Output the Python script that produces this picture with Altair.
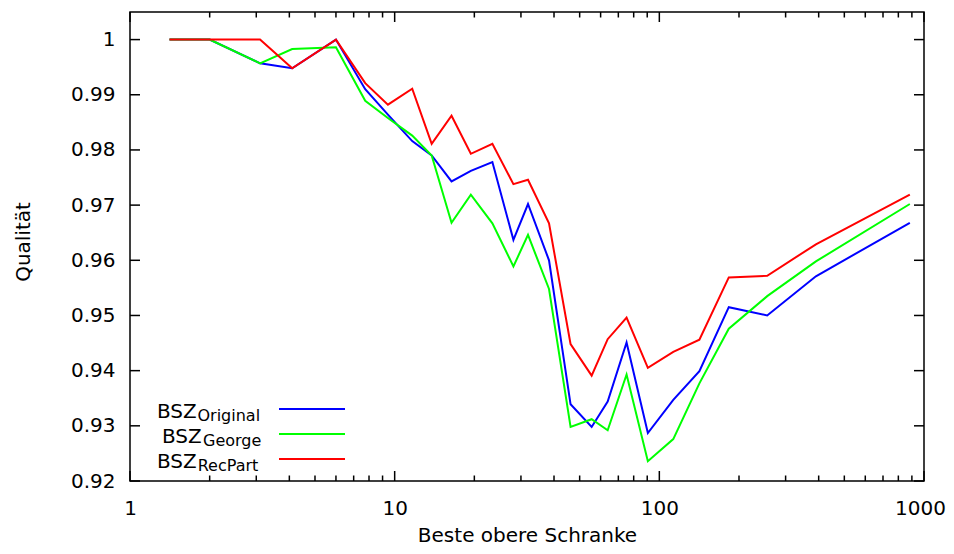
import altair as alt
import pandas as pd

# ---- data ----
bounds = [1.41, 2, 3.1, 4.1, 6, 7.74, 9.43, 11.65, 13.8, 16.4, 19.4, 23.4, 28.1,
          31.9, 38.3, 46.2, 55.5, 63.8, 75.2, 90.5, 112.9, 141.7, 183, 255.6, 390.5, 884]
original = [1.0, 1.0, 0.9957, 0.9948, 1.0, 0.9910, 0.9864, 0.9816, 0.9790, 0.9743,
            0.9762, 0.9778, 0.9637, 0.9702, 0.9600, 0.9339, 0.9298, 0.9344, 0.9451,
            0.9287, 0.9347, 0.9399, 0.9515, 0.9500, 0.9571, 0.9668]
george = [1.0, 1.0, 0.9957, 0.9983, 0.9986, 0.9889, 0.9858, 0.9826, 0.9790, 0.9668,
          0.9719, 0.9667, 0.9589, 0.9646, 0.9548, 0.9298, 0.9312, 0.9292, 0.9393,
          0.9236, 0.9276, 0.9377, 0.9476, 0.9535, 0.9598, 0.9702]
recpart = [1.0, 1.0, 1.0, 0.9948, 1.0, 0.9921, 0.9882, 0.9911, 0.9811, 0.9862,
           0.9793, 0.9811, 0.9738, 0.9746, 0.9667, 0.9448, 0.9391, 0.9457, 0.9496,
           0.9405, 0.9434, 0.9456, 0.9569, 0.9572, 0.9629, 0.9719]
series_names = ["Original", "George", "RecPart"]
series_colors = ["#0000ff", "#00ff00", "#ff0000"]
y_ticks = [0.92, 0.93, 0.94, 0.95, 0.96, 0.97, 0.98, 0.99, 1.0]
x_major = [1, 10, 100, 1000]
x_minor = [2, 3, 4, 5, 6, 7, 8, 9, 20, 30, 40, 50, 60, 70, 80, 90,
           200, 300, 400, 500, 600, 700, 800, 900]

W, H = 794, 469
FONT = "DejaVu Sans"

rows = []
for name, vals in zip(series_names, [original, george, recpart]):
    for b, v in zip(bounds, vals):
        rows.append({"bound": b, "q": v, "series": name})
df = pd.DataFrame(rows)

xscale = alt.Scale(type="log", domain=[1, 1000], nice=False)
yscale = alt.Scale(domain=[0.92, 1.005], nice=False, zero=False)
cscale = alt.Scale(domain=series_names, range=series_colors)

xaxis = alt.Axis(values=x_major, format="d", ticks=False, tickSize=0, domain=False, grid=False,
                 labelFontSize=20, labelPadding=17, labelFlush=False, labelOverlap=False,
                 labelOffset={"condition": {"test": "datum.value === 1000", "value": -4}, "value": 0},
                 labelFont=FONT, labelColor="black",
                 title="Beste obere Schranke", titleFont=FONT, titleFontSize=20,
                 titleFontWeight="normal", titleColor="black",
                 titleX=W / 2, titleY=60, titleBaseline="alphabetic", titleAlign="center")
yaxis = alt.Axis(values=y_ticks, format=".2~f", ticks=False, tickSize=0, domain=False, grid=False,
                 labelFontSize=20, labelPadding=15, labelFont=FONT, labelColor="black",
                 title="Qualität", titleFont=FONT, titleFontSize=20, titleFontWeight="normal",
                 titleColor="black", titleAngle=270, titleX=-107, titleY=229.5,
                 titleBaseline="middle", titleAlign="center")

layers = []
for i, name in enumerate(series_names):
    layers.append(
        alt.Chart(df).transform_filter(alt.datum.series == name)
        .mark_line(strokeWidth=2, clip=True)
        .encode(
            x=alt.X("bound:Q", scale=xscale, axis=xaxis),
            y=alt.Y("q:Q", scale=yscale, axis=yaxis),
            color=alt.Color("series:N", scale=cscale, legend=None),
        )
    )

# inward ticks on all four sides
ydf = pd.DataFrame({"v": y_ticks})
for x0, x1 in [(0, 10), (W - 10, W)]:
    layers.append(alt.Chart(ydf).mark_rule(color="black", strokeWidth=1.5).encode(
        y=alt.Y("v:Q", scale=yscale, axis=yaxis), x=alt.value(x0), x2=alt.value(x1)))
for vals, ln in [(x_major, 10), (x_minor, 5.5)]:
    tdf = pd.DataFrame({"v": vals})
    for y0, y1 in [(H - ln, H), (0, ln)]:
        layers.append(alt.Chart(tdf).mark_rule(color="black", strokeWidth=1.5).encode(
            x=alt.X("v:Q", scale=xscale, axis=xaxis), y=alt.value(y0), y2=alt.value(y1)))

# legend (BSZ with subscripts)
leg_bsz_x = [27, 32, 27]
leg_sub_x = [67.5, 73, 67.7]
for i, (name, col) in enumerate(zip(series_names, series_colors)):
    ly = 397 + 25 * i
    one = pd.DataFrame({"name": [name]})
    layers.append(alt.Chart(one).mark_rule(color=col, strokeWidth=2).encode(
        x=alt.value(149), x2=alt.value(215), y=alt.value(ly)))
    layers.append(alt.Chart(one).mark_text(font=FONT, fontSize=20, align="left",
                                           baseline="alphabetic", color="black").encode(
        x=alt.value(leg_bsz_x[i]), y=alt.value(ly + 8.7), text=alt.value("BSZ")))
    layers.append(alt.Chart(one).mark_text(font=FONT, fontSize=16, align="left",
                                           baseline="alphabetic", color="black").encode(
        x=alt.value(leg_sub_x[i]), y=alt.value(ly + 12), text=alt.Text("name:N")))

chart = alt.layer(*layers).properties(
    width=W, height=H,
    padding={"left": 122, "top": 4, "right": 22, "bottom": 65},
    autosize=alt.AutoSizeParams(type="none"),
    background="white",
).configure_view(stroke="black", strokeWidth=1.5)

chart.save("out.html", embed_options={"renderer": "svg", "actions": False})
